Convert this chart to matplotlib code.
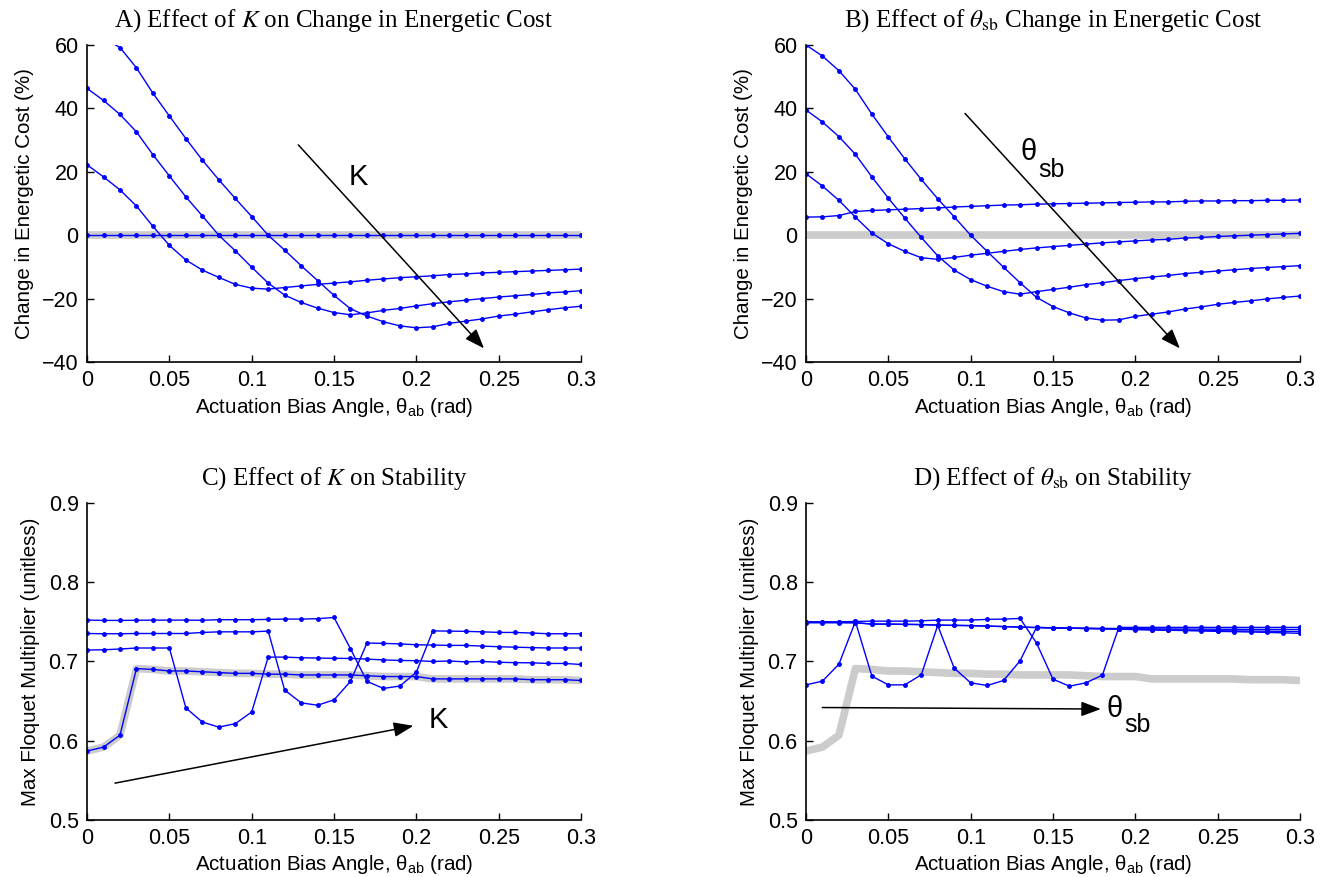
import numpy as np
import matplotlib
matplotlib.use("Agg")
import matplotlib.pyplot as plt
from matplotlib.ticker import FuncFormatter, MultipleLocator

plt.rcParams['font.family'] = ['Liberation Sans', 'DejaVu Sans']
plt.rcParams['mathtext.fontset'] = 'custom'
plt.rcParams['mathtext.rm'] = 'Liberation Sans'
plt.rcParams['mathtext.it'] = 'Liberation Sans:italic'
plt.rcParams['mathtext.sf'] = 'Liberation Sans'

# actuation bias angle (rad)
theta_ab = [round(0.01 * i, 2) for i in range(31)]

# A) change in energetic cost (%) for increasing K
cost_k1 = [0.0] * 31
cost_k2 = [22.2, 18.4, 14.3, 9.2, 2.8, -3.2, -7.8, -11.0, -13.3, -15.5, -16.7,
           -17.0, -16.5, -16.0, -15.5, -15.1, -14.7, -14.2, -13.8, -13.4, -13.1,
           -12.8, -12.4, -12.2, -11.9, -11.7, -11.5, -11.3, -11.1, -10.9, -10.7]
cost_k3 = [46.3, 42.5, 38.1, 32.6, 25.4, 18.7, 12.1, 6.1, 0.0, -4.9, -10.1,
           -15.1, -18.9, -21.2, -23.0, -24.4, -25.1, -24.5, -23.7, -23.1, -22.3,
           -21.6, -21.0, -20.5, -20.0, -19.5, -19.1, -18.7, -18.2, -17.9, -17.5]
cost_k4 = [64.8, 62.2, 59.2, 52.8, 44.8, 37.6, 30.5, 23.7, 17.5, 11.6, 5.9,
           0.0, -4.7, -9.6, -14.3, -19.0, -23.2, -25.5, -27.3, -28.6, -29.2,
           -28.9, -27.8, -27.1, -26.4, -25.5, -24.9, -24.2, -23.5, -22.9, -22.4]

# B) change in energetic cost (%) for increasing theta_sb
cost_s1 = [5.7, 5.8, 6.2, 7.5, 7.8, 8.0, 8.2, 8.4, 8.6, 8.9, 9.1,
           9.3, 9.5, 9.6, 9.8, 9.9, 10.0, 10.1, 10.2, 10.3, 10.4,
           10.5, 10.5, 10.7, 10.8, 10.8, 10.9, 10.9, 11.0, 11.0, 11.1]
cost_s2 = [19.4, 15.5, 11.0, 5.7, 0.7, -2.7, -5.1, -7.1, -7.6, -7.0, -6.3,
           -5.7, -5.1, -4.5, -4.0, -3.6, -3.2, -2.8, -2.4, -2.1, -1.8,
           -1.5, -1.3, -0.9, -0.7, -0.4, -0.2, 0.0, 0.2, 0.4, 0.6]
cost_s3 = [39.5, 35.7, 31.1, 25.5, 18.4, 11.7, 5.4, -0.7, -6.5, -11.0, -14.0,
           -16.1, -17.8, -18.6, -17.8, -17.1, -16.4, -15.6, -15.0, -14.3, -13.7,
           -13.2, -12.7, -12.1, -11.7, -11.3, -10.9, -10.5, -10.2, -9.9, -9.6]
cost_s4 = [60.0, 56.5, 51.9, 46.0, 38.2, 31.0, 24.1, 17.6, 11.5, 5.8, 0.0,
           -5.1, -10.1, -15.0, -19.6, -22.5, -24.5, -26.1, -26.8, -26.7, -25.6,
           -24.9, -24.2, -23.3, -22.6, -21.8, -21.2, -20.7, -20.1, -19.6, -19.2]

# baseline max Floquet multiplier
floq_base = [0.587, 0.592, 0.607, 0.691, 0.690, 0.688, 0.688, 0.687, 0.686, 0.685, 0.685,
             0.684, 0.684, 0.683, 0.683, 0.683, 0.683, 0.682, 0.681, 0.681, 0.681,
             0.678, 0.678, 0.678, 0.678, 0.678, 0.678, 0.677, 0.677, 0.677, 0.676]

# C) max Floquet multiplier for increasing K
floq_k2 = [0.7144, 0.7148, 0.7157, 0.7170, 0.7170, 0.7170, 0.6414, 0.6236, 0.6172, 0.6215, 0.6363,
           0.7055, 0.7055, 0.7047, 0.7043, 0.7040, 0.7038, 0.7030, 0.7020, 0.7013, 0.7010,
           0.7000, 0.7006, 0.6995, 0.7000, 0.6990, 0.6985, 0.6983, 0.6975, 0.6975, 0.6962]
floq_k3 = [0.7353, 0.7350, 0.7350, 0.7353, 0.7353, 0.7353, 0.7353, 0.7366, 0.7374, 0.7374, 0.7374,
           0.7383, 0.6640, 0.6478, 0.6448, 0.6516, 0.6749, 0.7233, 0.7228, 0.7222, 0.7211,
           0.7207, 0.7203, 0.7203, 0.7194, 0.7186, 0.7180, 0.7175, 0.7170, 0.7170, 0.7170]
floq_k4 = [0.7522, 0.7518, 0.7518, 0.7520, 0.7522, 0.7522, 0.7522, 0.7520, 0.7527, 0.7527, 0.7527,
           0.7531, 0.7535, 0.7535, 0.7540, 0.7555, 0.7160, 0.6749, 0.6660, 0.6690, 0.6864,
           0.7386, 0.7383, 0.7380, 0.7374, 0.7367, 0.7366, 0.7359, 0.7350, 0.7350, 0.7350]

# D) max Floquet multiplier for increasing theta_sb
floq_s1 = [0.6705, 0.6752, 0.6966, 0.7505, 0.6815, 0.6705, 0.6705, 0.6832, 0.7455, 0.6916, 0.6731,
           0.6697, 0.6760, 0.7008, 0.7430, 0.7425, 0.7420, 0.7416, 0.7412, 0.7408, 0.7403,
           0.7399, 0.7394, 0.7390, 0.7385, 0.7380, 0.7376, 0.7372, 0.7367, 0.7361, 0.7355]
floq_s2 = [0.7501, 0.7501, 0.7501, 0.7505, 0.7509, 0.7509, 0.7509, 0.7513, 0.7522, 0.7522, 0.7522,
           0.7531, 0.7535, 0.7543, 0.7233, 0.6777, 0.6688, 0.6731, 0.6827, 0.7430, 0.7430,
           0.7430, 0.7430, 0.7430, 0.7430, 0.7430, 0.7430, 0.7430, 0.7430, 0.7430, 0.7430]
floq_s3 = [0.7488, 0.7488, 0.7488, 0.7488, 0.7471, 0.7471, 0.7468, 0.7465, 0.7458, 0.7455, 0.7452,
           0.7446, 0.7440, 0.7433, 0.7428, 0.7424, 0.7422, 0.7420, 0.7418, 0.7416, 0.7414,
           0.7412, 0.7410, 0.7409, 0.7408, 0.7407, 0.7406, 0.7405, 0.7405, 0.7404, 0.7404]
floq_s4 = [0.7495, 0.7495, 0.7493, 0.7490, 0.7473, 0.7472, 0.7469, 0.7466, 0.7459, 0.7456, 0.7453,
           0.7447, 0.7441, 0.7434, 0.7429, 0.7424, 0.7420, 0.7416, 0.7412, 0.7408, 0.7404,
           0.7400, 0.7397, 0.7394, 0.7391, 0.7388, 0.7386, 0.7384, 0.7382, 0.7380, 0.7378]

BLUE = '#0000ff'
GRAY = '#cccccc'
XLABEL = 'Actuation Bias Angle, θ$_{\\rm ab}$ (rad)'


def fmt(v, pos):
    return ('%g' % round(v, 4)).replace('-', '\u2212')


def style_axes(ax, ylim, ystep, ylabel):
    ax.set_xlim(0, 0.3)
    ax.set_ylim(*ylim)
    ax.xaxis.set_major_locator(MultipleLocator(0.05))
    ax.yaxis.set_major_locator(MultipleLocator(ystep))
    ax.xaxis.set_major_formatter(FuncFormatter(fmt))
    ax.yaxis.set_major_formatter(FuncFormatter(fmt))
    for side in ('top', 'right'):
        ax.spines[side].set_visible(False)
    for side in ('left', 'bottom'):
        ax.spines[side].set_linewidth(1.2)
    ax.tick_params(direction='in', length=5, width=1.0, labelsize=15.5, pad=6)
    ax.set_xlabel(XLABEL, fontsize=14.8, labelpad=3)
    ax.set_ylabel(ylabel, fontsize=14.8, labelpad=6)


def blue_line(ax, y):
    ax.plot(theta_ab, y, color=BLUE, lw=1.0, marker='o', ms=2.5)


def arrow(ax, start, end):
    ax.annotate('', xy=end, xytext=start,
                arrowprops=dict(arrowstyle='-|>,head_length=1.2,head_width=0.45',
                                color='black', lw=1.1, shrinkA=0, shrinkB=0))


def theta_sb(ax, pos_theta, pos_sub):
    # big theta with a large "sb" subscript, placed side by side
    ax.text(*pos_theta, 'θ', fontsize=21, ha='right', va='center')
    ax.text(*pos_sub, 'sb', fontsize=18, ha='left', va='center')


fig = plt.figure(figsize=(13.25, 8.77), dpi=100)
axA = fig.add_axes([0.0657, 0.5872, 0.3728, 0.3615])
axB = fig.add_axes([0.6083, 0.5872, 0.3728, 0.3615])
axC = fig.add_axes([0.0657, 0.0650, 0.3728, 0.3615])
axD = fig.add_axes([0.6083, 0.0650, 0.3728, 0.3615])

title_kw = dict(fontsize=18, family='Liberation Serif', math_fontfamily='stix', pad=13)

# A
axA.plot(theta_ab, [0.0] * 31, color=GRAY, lw=5.5, solid_capstyle='butt')
for y in (cost_k1, cost_k2, cost_k3, cost_k4):
    blue_line(axA, y)
style_axes(axA, (-40, 60), 20, 'Change in Energetic Cost (%)')
axA.set_title(r'A) Effect of $K$ on Change in Energetic Cost', **title_kw)
arrow(axA, (0.1283, 28.5), (0.2411, -35.7))
axA.text(0.1647, 18.5, 'K', fontsize=21, ha='center', va='center')

# B
axB.plot(theta_ab, [0.0] * 31, color=GRAY, lw=5.5, solid_capstyle='butt')
for y in (cost_s1, cost_s2, cost_s3, cost_s4):
    blue_line(axB, y)
style_axes(axB, (-40, 60), 20, 'Change in Energetic Cost (%)')
axB.set_title(r'B) Effect of $\theta_{\rm sb}$ Change in Energetic Cost', **title_kw)
arrow(axB, (0.0966, 38.4), (0.2271, -35.7))
theta_sb(axB, (0.1400, 26.1), (0.1410, 20.5))

# C
axC.plot(theta_ab, floq_base, color=GRAY, lw=5.5, solid_capstyle='butt')
for y in (floq_base, floq_k2, floq_k3, floq_k4):
    blue_line(axC, y)
style_axes(axC, (0.5, 0.9), 0.1, 'Max Floquet Multiplier (unitless)')
axC.set_title(r'C) Effect of $K$ on Stability', **title_kw)
arrow(axC, (0.0170, 0.5465), (0.1982, 0.6188))
axC.text(0.2134, 0.6264, 'K', fontsize=21, ha='center', va='center')

# D
axD.plot(theta_ab, floq_base, color=GRAY, lw=5.5, solid_capstyle='butt')
for y in (floq_s1, floq_s2, floq_s3, floq_s4):
    blue_line(axD, y)
style_axes(axD, (0.5, 0.9), 0.1, 'Max Floquet Multiplier (unitless)')
axD.set_title(r'D) Effect of $\theta_{\rm sb}$ on Stability', **title_kw)
arrow(axD, (0.0099, 0.6419), (0.1791, 0.6400))
theta_sb(axD, (0.1925, 0.6403), (0.1935, 0.6195))

fig.savefig('out.png', dpi=100)
